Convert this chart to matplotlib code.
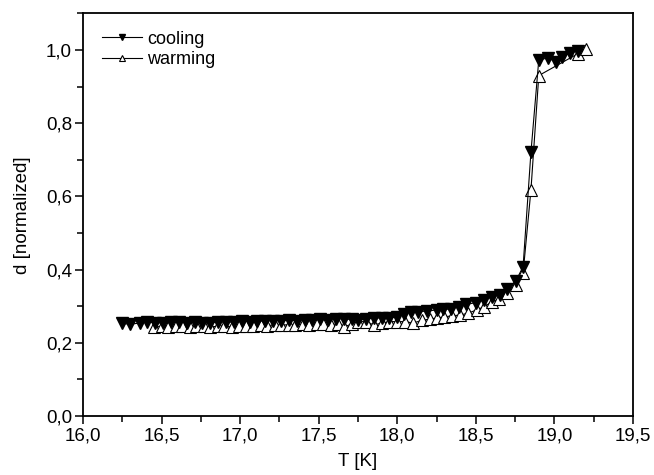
import numpy as np
import matplotlib
matplotlib.use("Agg")
import matplotlib.pyplot as plt
from matplotlib.ticker import FuncFormatter, MultipleLocator

plt.rcParams["font.family"] = ["Liberation Sans", "DejaVu Sans"]

# cooling run (filled, down-pointing)
t_cool = [16.25, 16.30, 16.36, 16.41, 16.46, 16.51, 16.56, 16.61, 16.66, 16.71,
          16.76, 16.81, 16.86, 16.91, 16.96, 17.01, 17.06, 17.11, 17.16, 17.21,
          17.26, 17.31, 17.36, 17.41, 17.46, 17.51, 17.56, 17.61, 17.66, 17.71,
          17.75, 17.80, 17.85, 17.90, 17.95, 18.00, 18.04, 18.09, 18.13, 18.19,
          18.25, 18.29, 18.34, 18.39, 18.44, 18.50, 18.55, 18.60, 18.655, 18.70,
          18.755, 18.80, 18.85, 18.90, 18.96, 19.01, 19.05, 19.10, 19.15]
d_cool = [0.253, 0.251, 0.254, 0.257, 0.255, 0.254, 0.256, 0.257, 0.255, 0.256,
          0.254, 0.255, 0.257, 0.256, 0.257, 0.259, 0.258, 0.260, 0.259, 0.261,
          0.260, 0.262, 0.261, 0.263, 0.262, 0.264, 0.263, 0.266, 0.265, 0.264,
          0.262, 0.265, 0.268, 0.268, 0.268, 0.271, 0.279, 0.285, 0.285, 0.287,
          0.290, 0.292, 0.292, 0.299, 0.305, 0.310, 0.317, 0.326, 0.330, 0.347,
          0.370, 0.408, 0.720, 0.973, 0.978, 0.967, 0.981, 0.992, 0.997]

# warming run (open, up-pointing)
t_warm = [16.45, 16.50, 16.54, 16.59, 16.63, 16.68, 16.72, 16.77, 16.81, 16.86,
          16.90, 16.95, 16.99, 17.04, 17.08, 17.13, 17.17, 17.22, 17.26, 17.31,
          17.35, 17.40, 17.44, 17.49, 17.53, 17.58, 17.62, 17.66, 17.71, 17.75,
          17.80, 17.85, 17.90, 17.95, 18.00, 18.05, 18.10, 18.16, 18.21, 18.25,
          18.30, 18.35, 18.40, 18.45, 18.505, 18.55, 18.60, 18.65, 18.70, 18.755,
          18.80, 18.85, 18.90, 19.15, 19.20]
d_warm = [0.243, 0.245, 0.244, 0.246, 0.245, 0.244, 0.246, 0.245, 0.244, 0.245,
          0.246, 0.244, 0.245, 0.247, 0.246, 0.248, 0.247, 0.249, 0.248, 0.250,
          0.249, 0.251, 0.250, 0.252, 0.251, 0.250, 0.252, 0.244, 0.251, 0.258,
          0.258, 0.249, 0.254, 0.258, 0.258, 0.258, 0.254, 0.262, 0.265, 0.268,
          0.271, 0.274, 0.276, 0.281, 0.290, 0.298, 0.312, 0.320, 0.336, 0.358,
          0.390, 0.617, 0.930, 0.990, 1.003]


def comma(v, _pos):
    return f"{v:.1f}".replace(".", ",")


fig = plt.figure(figsize=(6.54, 4.75), dpi=100)
ax = fig.add_axes([0.127, 0.124, 0.841, 0.848])

ax.plot(t_cool, d_cool, color="black", lw=0.8, marker="v", ms=8.5,
        mfc="black", mec="black", label="cooling", zorder=3)
ax.plot(t_warm, d_warm, color="black", lw=0.8, marker="^", ms=8.5,
        mfc="white", mec="black", mew=0.8, label="warming", zorder=2)

ax.set_xlim(16.0, 19.5)
ax.set_ylim(0.0, 1.1)
ax.xaxis.set_major_locator(MultipleLocator(0.5))
ax.xaxis.set_minor_locator(MultipleLocator(0.25))
ax.yaxis.set_major_locator(MultipleLocator(0.2))
ax.yaxis.set_minor_locator(MultipleLocator(0.1))
ax.xaxis.set_major_formatter(FuncFormatter(comma))
ax.yaxis.set_major_formatter(FuncFormatter(comma))
ax.tick_params(which="both", direction="out", width=1.1, labelsize=13.5,
               top=False, right=False, pad=2)
ax.tick_params(which="major", length=6)
ax.tick_params(which="minor", length=4)
for sp in ax.spines.values():
    sp.set_linewidth(1.3)

ax.set_xlabel("T [K]", fontsize=13.5, labelpad=6)
ax.set_ylabel("d [normalized]", fontsize=13.5, labelpad=11)

ax.legend(loc="upper left", frameon=False, fontsize=13, markerscale=0.55,
          handlelength=2.2, handletextpad=0.3, labelspacing=0.2,
          borderaxespad=0.0, bbox_to_anchor=(0.022, 0.975))

fig.savefig("out.png", dpi=100)
